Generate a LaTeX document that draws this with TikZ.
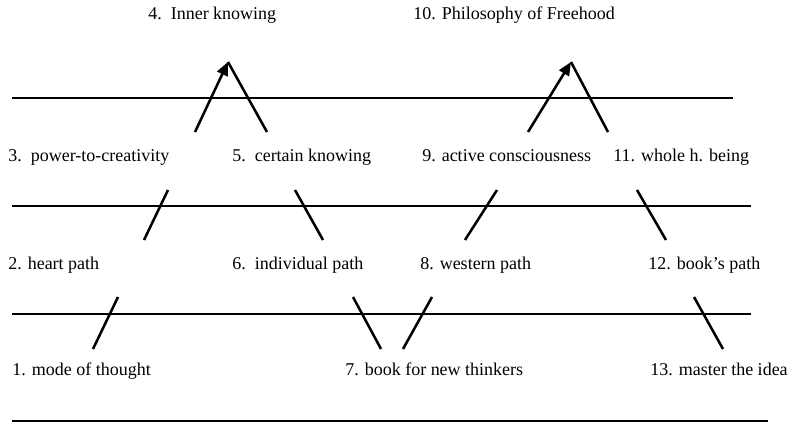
\documentclass[tikz,border=0pt]{standalone}
\usepackage{fontspec}
\setmainfont{Liberation Serif}
\usetikzlibrary{arrows.meta}
\begin{document}
\begin{tikzpicture}[x=0.75pt,y=-0.75pt,
  label/.style={anchor=base west,inner sep=0pt,font=\fontsize{13.5}{16}\selectfont},
  rule/.style={line width=1.1pt},
  tick/.style={line width=1.9pt},
  rise/.style={line width=1.9pt,-{Triangle[length=10pt,width=8.5pt]}}]
\useasboundingbox (0,0) rectangle (794,425);

% horizontal levels
\draw[rule] (12,98) -- (733,98);
\draw[rule] (12,206) -- (751,206);
\draw[rule] (12,314) -- (751,314);
\draw[rule] (12,421) -- (768,421);

% apex points of the two peaks
\coordinate (p4) at (228,62);
\coordinate (p10) at (571,62);
\coordinate (a3) at (195,132);
\coordinate (a5) at (267,132);
\coordinate (a9) at (528,132);
\coordinate (a11) at (608,132);
\draw[rise] (a3) -- (p4);
\draw[tick] (p4) -- (a5);
\draw[rise] (a9) -- (p10);
\draw[tick] (p10) -- (a11);

% crossings of the second level
\coordinate (b1) at (144,240); \coordinate (b2) at (168,190);
\coordinate (b3) at (295,190); \coordinate (b4) at (323,240);
\coordinate (b5) at (465,240); \coordinate (b6) at (497,190);
\coordinate (b7) at (637,190); \coordinate (b8) at (666,240);
\draw[tick] (b1) -- (b2);
\draw[tick] (b3) -- (b4);
\draw[tick] (b5) -- (b6);
\draw[tick] (b7) -- (b8);

% crossings of the third level
\coordinate (c1) at (93,349);  \coordinate (c2) at (118,297);
\coordinate (c3) at (353,297); \coordinate (c4) at (381,349);
\coordinate (c5) at (403,349); \coordinate (c6) at (432,297);
\coordinate (c7) at (694,297); \coordinate (c8) at (723,349);
\draw[tick] (c1) -- (c2);
\draw[tick] (c3) -- (c4);
\draw[tick] (c5) -- (c6);
\draw[tick] (c7) -- (c8);

% labels
\node[label] (t4)  at (148,19)  {4.\ \ Inner knowing};
\node[label] (t10) at (413,19)  {10. Philosophy of Freehood};
\node[label] (t3)  at (8,161)   {3.\ \ power-to-creativity};
\node[label] (t5)  at (232,161) {5.\ \ certain knowing};
\node[label] (t9)  at (422,161) {9. active consciousness};
\node[label] (t11) at (613,161) {11. whole h. being};
\node[label] (t2)  at (8,269)   {2. heart path};
\node[label] (t6)  at (232,269) {6.\ \ individual path};
\node[label] (t8)  at (420,269) {8. western path};
\node[label] (t12) at (648,269) {12. book’s path};
\node[label] (t1)  at (12,375)  {1. mode of thought};
\node[label] (t7)  at (345,375) {7. book for new thinkers};
\node[label] (t13) at (650,375) {13. master the idea};
\end{tikzpicture}
\end{document}
